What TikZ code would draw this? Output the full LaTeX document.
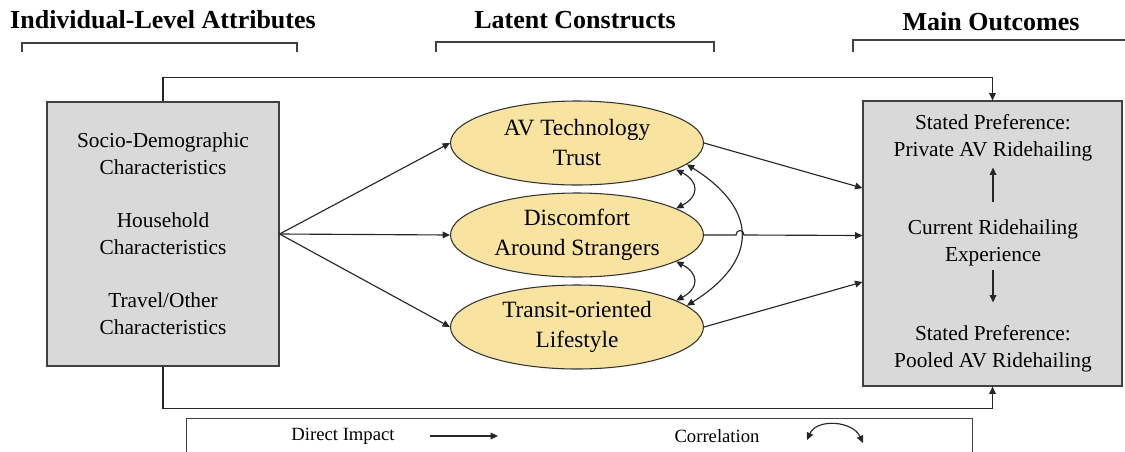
\documentclass[tikz,border=0pt]{standalone}
\usepackage{fontspec}
\setmainfont{Liberation Serif}
\usetikzlibrary{arrows.meta,shapes.geometric,calc}
\definecolor{boxgray}{HTML}{D9D9D9}
\definecolor{ellfill}{HTML}{F8E4A0}
\definecolor{edge}{HTML}{404040}
\begin{document}
\begin{tikzpicture}[x=0.75pt,y=0.75pt,
  hdr/.style={font=\fontsize{19.5}{23}\selectfont\bfseries, inner sep=0},
  brk/.style={draw=edge, line width=0.9pt},
  gbox/.style={draw=edge, fill=boxgray, line width=0.9pt, inner sep=0},
  btxt/.style={font=\fontsize{16}{20}\selectfont, align=center, inner sep=0, text=black},
  ell/.style={ellipse, draw=black!80, fill=ellfill, line width=0.8pt, minimum width=189.75pt, minimum height=63pt, inner sep=0, align=center, font=\fontsize{17.5}{22.5}\selectfont},
  arr/.style={draw=black!85, line width=0.85pt, -{Triangle[length=5.5pt,width=5pt]}},
  corr/.style={draw=black!85, line width=0.85pt, {Triangle[length=5.5pt,width=5pt]}-{Triangle[length=5.5pt,width=5pt]}},
  ltxt/.style={font=\fontsize{14}{17}\selectfont, inner sep=0},
  legbox/.style={draw=edge, line width=0.9pt, fill=white, inner sep=0},
]
\useasboundingbox (0,0) rectangle (1125,-451);
\clip (0,0) rectangle (1125,-451);

% headers
\node[hdr] (h1) at (163,-20) {Individual-Level Attributes};
\node[hdr] (h2) at (575,-20) {Latent Constructs};
\node[hdr] (h3) at (991,-22) {Main Outcomes};
\draw[brk] (22,-52) -- (22,-43) -- (297,-43) -- (297,-52);
\draw[brk] (436,-52) -- (436,-42) -- (714,-42) -- (714,-52);
\draw[brk] (853,-52) -- (853,-40) -- (1125,-40);

% left box
\node[gbox, minimum width=174pt, minimum height=198pt] (L) at (163,-234) {};
\node[btxt] (t1) at (163,-153.5) {Socio-Demographic\\Characteristics};
\node[btxt] (t2) at (163,-233.5) {Household\\Characteristics};
\node[btxt] (t3) at (163,-313.5) {Travel/Other\\Characteristics};

% right box
\node[gbox, minimum width=194.25pt, minimum height=213.75pt] (R) at (992.5,-243.5) {};
\node[btxt] (r1) at (993,-137.5) {Stated Preference:\\Private AV Ridehailing};
\node[btxt] (r2) at (993,-243) {Current Ridehailing\\Experience};
\node[btxt] (r3) at (993,-348.5) {Stated Preference:\\Pooled AV Ridehailing};
\draw[arr] ([yshift=13pt]r2.north) -- ([yshift=-5pt]r1.south);
\draw[arr] ([yshift=-3pt]r2.south) -- ([yshift=17pt]r3.north);

% ellipses
\node[ell] (av) at (577,-143) {AV Technology\\Trust};
\node[ell] (dis) at (577,-235) {Discomfort\\Around Strangers};
\node[ell] (tr) at (577,-327) {Transit-oriented\\Lifestyle};

% outer connectors
\draw[arr] (L.north) -- ++(0,24) -| (R.north);
\draw[arr] (L.south) -- ++(0,-42) -| (R.south);

% left to ellipses
\draw[arr] (L.east) -- (av.west);
\draw[arr] (L.east) -- (dis.west);
\draw[arr] (L.east) -- (tr.west);

% ellipses to right box
\draw[arr] (av.east) -- ([yshift=41.6pt]R.west);
\draw[arr] (dis.east) -- (736,-235) .. controls (736,-229) and (744,-229) .. (744,-235) -- ([yshift=6pt]R.west);
\draw[arr] (tr.east) -- ([yshift=-28.9pt]R.west);

% correlations
\draw[corr] (av.-15) .. controls +(23,-12) and +(23,12) .. (dis.15);
\draw[corr] (dis.-15) .. controls +(23,-12) and +(23,12) .. (tr.15);
\draw[corr] (av.-11) .. controls +(72,-45) and +(72,45) .. (tr.11);

% legend
\node[legbox, minimum width=589.5pt, minimum height=45pt, anchor=north west] (leg) at (186,-418) {};
\node[ltxt] (lt1) at (343,-436) {Direct Impact};
\coordinate (la1) at (430,-436);
\coordinate (la2) at (498,-436);
\draw[arr] (la1) -- (la2);
\node[ltxt] (lt2) at (717,-436) {Correlation};
\coordinate (lc1) at (807,-440);
\coordinate (lc2) at (863,-443);
\draw[corr] (lc1) .. controls +(10,22) and +(-10,22) .. (lc2);
\end{tikzpicture}
\end{document}
